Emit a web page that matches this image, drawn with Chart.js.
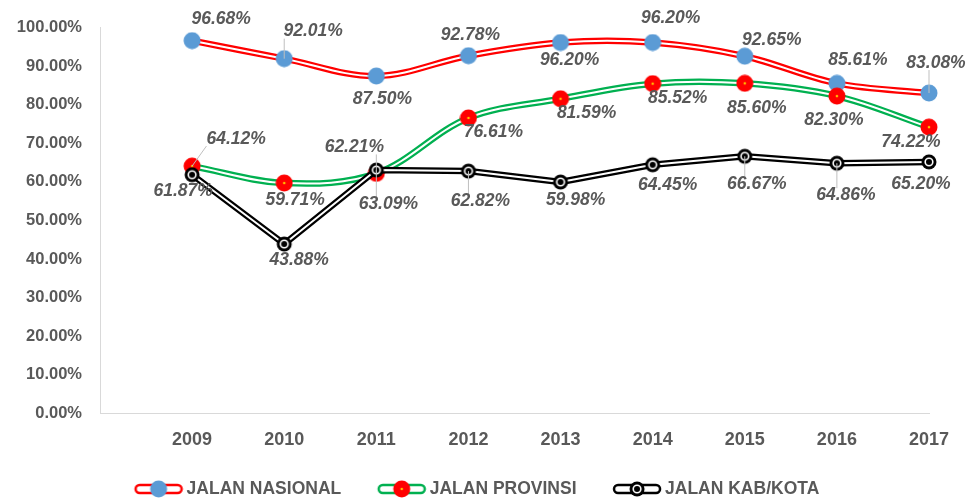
<!DOCTYPE html>
<html>
<head>
<meta charset="utf-8">
<script src="https://cdn.jsdelivr.net/npm/chart.js@4"></script>
<style>
    body { margin: 0; background: #ffffff; }
    #wrap { width: 972px; height: 498px; position: relative; }
</style>
</head>
<body>
<div id="wrap"><canvas id="lineChart"></canvas></div>
<script>
// Persentase kondisi jalan mantap per tahun
const years = ['2009', '2010', '2011', '2012', '2013', '2014', '2015', '2016', '2017'];
const nasional = [96.68, 92.01, 87.50, 92.78, 96.20, 96.20, 92.65, 85.61, 83.08];
const provinsi = [64.12, 59.71, 62.21, 76.61, 81.59, 85.52, 85.60, 82.30, 74.22];
const kabKota = [61.87, 43.88, 63.09, 62.82, 59.98, 64.45, 66.67, 64.86, 65.20];
const yTicks = [0, 10, 20, 30, 40, 50, 60, 70, 80, 90, 100];

// where each value label sits relative to its point (dx, dy)
const nasionalLabelPos = [[29, -22], [29, -27], [6, 23], [2, -21], [9, 18], [18, -24], [27, -16], [21, -23], [7, -30]];
const provinsiLabelPos = [[44, -27], [11, 17], [-22, -26], [25, 14], [26, 14], [25, 15], [12, 25], [-3, 24], [-18, 15]];
const kabKotaLabelPos = [[-9, 16], [15, 16], [12, 34], [12, 30], [15, 18], [15, 20], [12, 28], [9, 32], [-8, 22]];
// thin grey leader line from label to point
const nasionalLeader = [0, 1, 0, 0, 0, 0, 0, 0, 1];
const provinsiLeader = [1, 0, 1, 0, 0, 0, 0, 0, 0];
const kabKotaLeader = [0, 0, 1, 1, 0, 0, 1, 1, 0];

const GREY = '#595959';
const FONT = '"Liberation Sans", Arial, sans-serif';
Chart.defaults.font.family = FONT;

function makeMarker(kind) {
    const c = document.createElement('canvas');
    c.width = 18;
    c.height = 18;
    const g = c.getContext('2d');
    g.beginPath();
    if (kind === 'blue') {
        g.fillStyle = '#5B9BD5';
        g.arc(9, 9, 8.5, 0, Math.PI * 2);
        g.fill();
    } else if (kind === 'red') {
        g.fillStyle = '#FF0000';
        g.arc(9, 9, 8.5, 0, Math.PI * 2);
        g.fill();
        g.beginPath();
        g.fillStyle = '#FFC000';
        g.arc(9, 9, 1.3, 0, Math.PI * 2);
        g.fill();
    } else {
        g.fillStyle = '#000000';
        g.arc(9, 9, 7.5, 0, Math.PI * 2);
        g.fill();
        g.beginPath();
        g.strokeStyle = '#ffffff';
        g.lineWidth = 1.6;
        g.arc(9, 9, 3.8, 0, Math.PI * 2);
        g.stroke();
    }
    return c;
}

// legend swatch: capsule + marker, drawn at the right side of a wider canvas
function makeLegendIcon(color, kind) {
    const c = document.createElement('canvas');
    c.width = 64;
    c.height = 20;
    const g = c.getContext('2d');
    g.beginPath();
    g.roundRect(16, 6, 46, 8, 4);
    g.fillStyle = '#ffffff';
    g.fill();
    g.lineWidth = 2.5;
    g.strokeStyle = color;
    g.stroke();
    g.drawImage(makeMarker(kind), 39 - 9, 10 - 9);
    return c;
}

const series = [
    { label: 'JALAN NASIONAL', values: nasional, color: '#FF0000', kind: 'blue', tension: 0.35,
      labelPos: nasionalLabelPos, leaders: nasionalLeader },
    { label: 'JALAN PROVINSI', values: provinsi, color: '#00B050', kind: 'red', tension: 0.35,
      labelPos: provinsiLabelPos, leaders: provinsiLeader },
    { label: 'JALAN KAB/KOTA', values: kabKota, color: '#000000', kind: 'ring', tension: 0,
      labelPos: kabKotaLabelPos, leaders: kabKotaLeader }
];

// thick coloured stroke under the thin white line -> double line look
const doubleLine = {
    id: 'doubleLine',
    beforeDatasetDraw(chart, args) {
        const s = series[args.index];
        const line = args.meta.dataset;
        const ctx = chart.ctx;
        line.updateControlPoints(chart.chartArea, args.meta.indexAxis);
        ctx.save();
        ctx.beginPath();
        line.path(ctx);
        ctx.lineWidth = 6.5;
        ctx.strokeStyle = s.color;
        ctx.lineJoin = 'round';
        ctx.lineCap = 'round';
        ctx.stroke();
        ctx.restore();
    }
};

const dataLabels = {
    id: 'dataLabels',
    afterDatasetsDraw(chart) {
        const ctx = chart.ctx;
        ctx.save();
        ctx.font = 'italic bold 17.5px ' + FONT;
        ctx.textAlign = 'center';
        ctx.textBaseline = 'middle';
        series.forEach((s, si) => {
            const meta = chart.getDatasetMeta(si);
            s.values.forEach((v, i) => {
                const pt = meta.data[i + 1];
                const tx = pt.x + s.labelPos[i][0];
                const ty = pt.y + s.labelPos[i][1];
                const text = v.toFixed(2) + '%';
                if (s.leaders[i]) {
                    const w = ctx.measureText(text).width;
                    const nx = Math.min(Math.max(pt.x, tx - w / 2), tx + w / 2);
                    const ny = Math.min(Math.max(pt.y, ty - 7), ty + 7);
                    ctx.beginPath();
                    ctx.moveTo(pt.x, pt.y);
                    ctx.lineTo(nx, ny);
                    ctx.lineWidth = 1;
                    ctx.strokeStyle = '#bfbfbf';
                    ctx.stroke();
                }
                ctx.fillStyle = GREY;
                ctx.fillText(text, tx, ty);
            });
        });
        ctx.restore();
    }
};

const ctxLine = document.getElementById('lineChart').getContext('2d');
new Chart(ctxLine, {
    type: 'line',
    data: {
        labels: [''].concat(years),
        datasets: series.map((s, i) => ({
            label: s.label,
            data: [null].concat(s.values),
            borderColor: '#ffffff',
            borderWidth: 2,
            tension: s.tension,
            pointStyle: makeMarker(s.kind),
            pointRadius: 8,
            pointHoverRadius: 8,
            fill: false,
            clip: false,
            order: 3 - i
        }))
    },
    options: {
        responsive: true,
        maintainAspectRatio: false,
        animation: false,
        events: [],
        layout: {
            padding: { top: 24.5, right: 27.35, bottom: 0, left: 0 }
        },
        plugins: {
            tooltip: { enabled: false },
            legend: {
                position: 'bottom',
                maxHeight: 45,
                labels: {
                    usePointStyle: true,
                    pointStyleWidth: 52.5,
                    padding: 27.25,
                    color: GREY,
                    font: { size: 17.5, weight: 'bold' },
                    generateLabels: function() {
                        return series.map((s, i) => ({
                            text: s.label,
                            fillStyle: s.color,
                            strokeStyle: s.color,
                            lineWidth: 0,
                            pointStyle: makeLegendIcon(s.color, s.kind),
                            hidden: false,
                            datasetIndex: i,
                            fontColor: GREY
                        }));
                    }
                }
            }
        },
        scales: {
            x: {
                grid: { display: false, drawTicks: false },
                border: { display: true, color: '#d9d9d9', width: 1 },
                ticks: {
                    color: GREY,
                    font: { size: 18, weight: 'bold' },
                    padding: 16,
                    maxRotation: 0,
                    autoSkip: false
                },
                afterFit: function(scale) {
                    scale.height = 40;
                    scale.paddingRight = 43;
                }
            },
            y: {
                min: 0,
                max: 100,
                grid: { display: false, drawTicks: false },
                border: { display: true, color: '#d9d9d9', width: 1 },
                ticks: {
                    color: GREY,
                    font: { size: 16.5, weight: 'bold' },
                    padding: 18,
                    callback: function(value) {
                        return value.toFixed(2) + '%';
                    }
                },
                afterBuildTicks: function(scale) {
                    scale.ticks = yTicks.map(v => ({ value: v }));
                },
                afterFit: function(scale) {
                    scale.width = 100;
                }
            }
        }
    },
    plugins: [doubleLine, dataLabels]
});
</script>
</body>
</html>
